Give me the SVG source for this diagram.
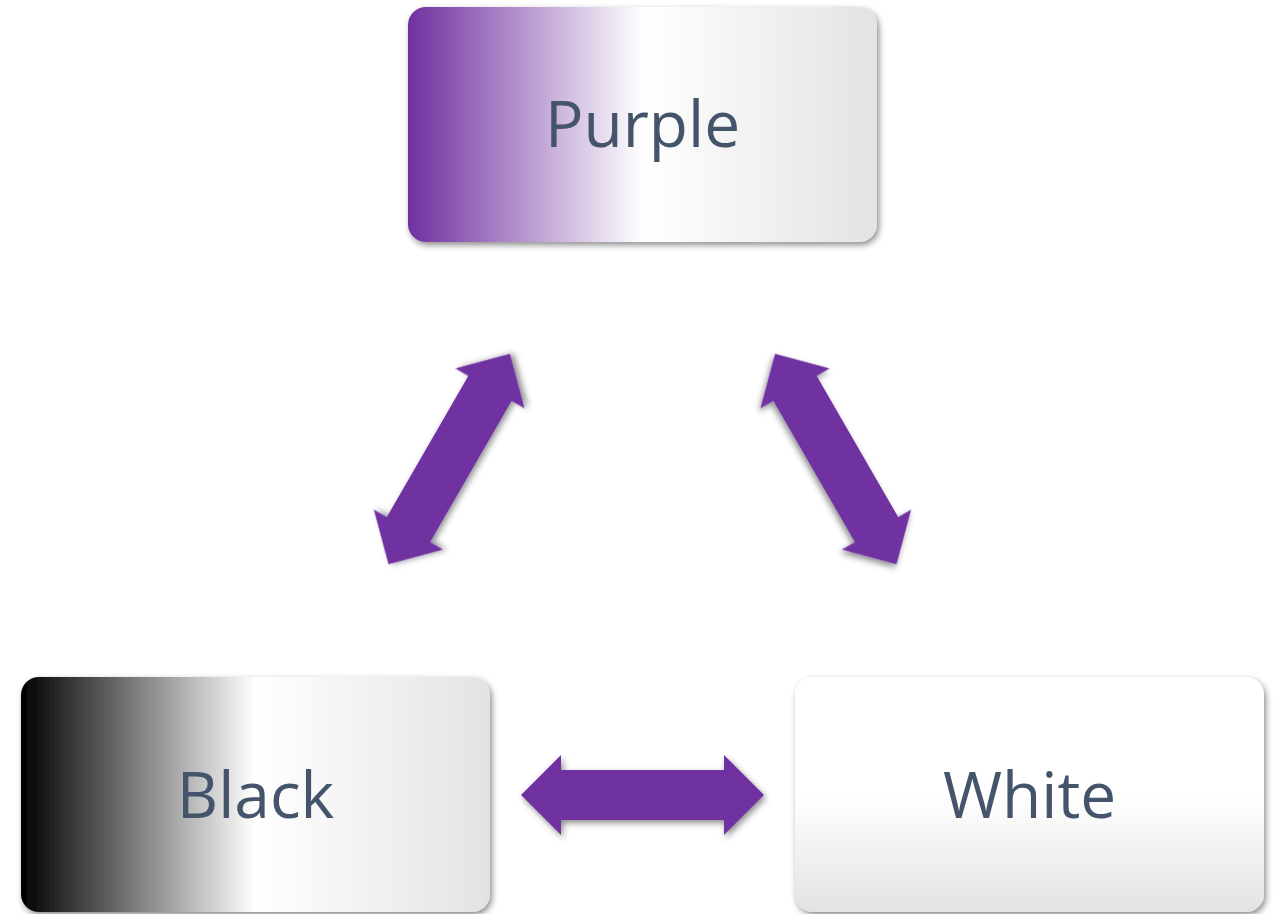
<svg xmlns="http://www.w3.org/2000/svg" width="1273" height="914" viewBox="0 0 1273 914">
<defs>
<linearGradient id="gPurple" x1="0" y1="0" x2="1" y2="0">
<stop offset="0" stop-color="#7030A0"/>
<stop offset="0.5" stop-color="#FFFFFF"/>
<stop offset="1" stop-color="#E3E3E3"/>
</linearGradient>
<linearGradient id="gBlack" x1="0" y1="0" x2="1" y2="0">
<stop offset="0" stop-color="#000000"/>
<stop offset="0.5" stop-color="#FFFFFF"/>
<stop offset="1" stop-color="#E3E3E3"/>
</linearGradient>
<linearGradient id="gWhite" x1="0" y1="0" x2="0" y2="1">
<stop offset="0" stop-color="#FFFFFF"/>
<stop offset="0.5" stop-color="#FFFFFF"/>
<stop offset="1" stop-color="#E3E3E3"/>
</linearGradient>
<filter id="shadow" x="-10%" y="-10%" width="125%" height="130%">
<feDropShadow dx="2" dy="3" stdDeviation="3" flood-color="#000" flood-opacity="0.45"/>
</filter>
<path id="dblArrow" d="M -121.5 0 L -81.5 -40 L -81.5 -25 L 81.5 -25 L 81.5 -40 L 121.5 0 L 81.5 40 L 81.5 25 L -81.5 25 L -81.5 40 Z"/>
</defs>
<style>
.box { filter: url(#shadow); }
.label { font-family: "Open Sans", "Noto Sans", sans-serif; font-size: 64px; fill: #44546A; text-anchor: middle; }
.arrow { fill: #7030A0; filter: url(#shadow); }
</style>
<rect width="1273" height="914" fill="#FFFFFF"/>
<g id="connectors">
<use href="#dblArrow" class="arrow" transform="translate(449.2 459) rotate(-60)"/>
<use href="#dblArrow" class="arrow" transform="translate(835.8 459) rotate(60)"/>
<use href="#dblArrow" class="arrow" transform="translate(642.5 795)"/>
</g>
<g id="node-purple">
<rect class="box" x="408" y="7" width="469" height="235" rx="18" fill="url(#gPurple)"/>
<text class="label" x="642.5" y="147">Purple</text>
</g>
<g id="node-black">
<rect class="box" x="21" y="677" width="469" height="235" rx="18" fill="url(#gBlack)"/>
<text class="label" x="255.5" y="818">Black</text>
</g>
<g id="node-white">
<rect class="box" x="795" y="677" width="469" height="235" rx="18" fill="url(#gWhite)"/>
<text class="label" x="1029.5" y="818">White</text>
</g>
</svg>
